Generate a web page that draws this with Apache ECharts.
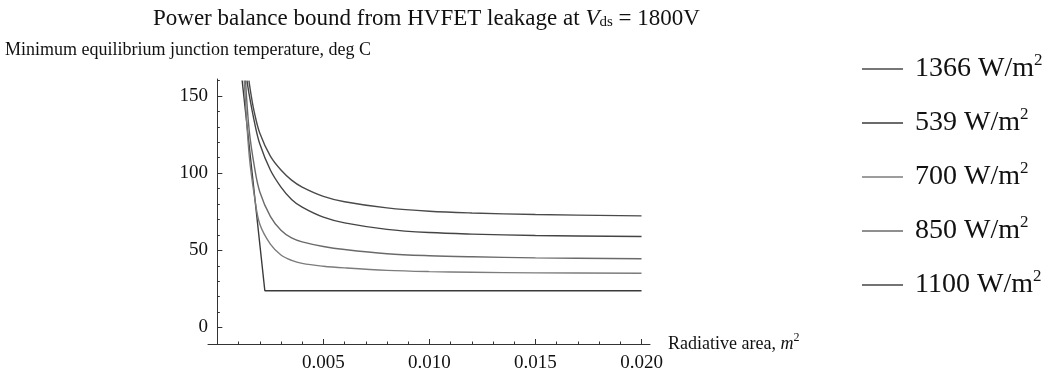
<!DOCTYPE html>
<html>
<head>
<meta charset="utf-8">
<script src="https://cdn.jsdelivr.net/npm/echarts@6/dist/echarts.min.js"></script>
<style>
html,body{margin:0;padding:0;background:#fff;}
#chart{width:1056px;height:375px;}
</style>
</head>
<body>
<div id="chart"></div>
<script>
// ---- data ----
const seriesNames = ['1366', '539', '700', '850', '1100'];
const s1366 = [[0.00149,160],[0.0016,150],[0.00175,139],[0.002,126],[0.0025,111],[0.003,102],[0.0035,95.5],[0.004,91],[0.005,85],[0.006,81.5],[0.008,77.5],[0.010,75.3],[0.012,74.2],[0.015,73.2],[0.020,72.3]];
const s1100 = [[0.0014,160],[0.0015,151],[0.00175,133],[0.002,119],[0.0025,102],[0.003,91],[0.0035,83],[0.004,78],[0.005,71.5],[0.006,67.8],[0.008,63.6],[0.010,61.5],[0.012,60.5],[0.015,59.6],[0.020,59]];
const s850 = [[0.00133,160],[0.0015,128],[0.00175,104],[0.002,88],[0.0025,72],[0.003,63],[0.0035,58],[0.004,55.5],[0.005,52.5],[0.006,50.5],[0.008,47.8],[0.010,46.5],[0.012,45.8],[0.015,45.1],[0.020,44.5]];
const s700 = [[0.00127,160],[0.0015,112],[0.00175,85],[0.002,67],[0.0025,54],[0.003,47],[0.0035,43.5],[0.004,41.5],[0.005,39.7],[0.006,38.6],[0.008,37],[0.010,36.2],[0.012,35.8],[0.015,35.4],[0.020,35.1]];
const s539 = [[0.00117,160],[0.00224,23.8],[0.005,23.8],[0.010,23.8],[0.015,23.8],[0.020,23.8]];
const xMajorTicks = [0.005, 0.010, 0.015, 0.020];
const xMinorTicks = [0.001,0.002,0.003,0.004,0.006,0.007,0.008,0.009,0.011,0.012,0.013,0.014,0.016,0.017,0.018,0.019];
const yMajorTicks = [0, 50, 100, 150];
const yMinorTicks = [10,20,30,40,60,70,80,90,110,120,130,140,160];

const seriesData = {'1366': s1366, '539': s539, '700': s700, '850': s850, '1100': s1100};
const seriesColors = {'1366': '#4a4a4a', '539': '#3a3a3a', '700': '#7c7c7c', '850': '#6a6a6a', '1100': '#444444'};

const FONT = 'Liberation Serif';
const chart = echarts.init(document.getElementById('chart'), null, {renderer: 'canvas'});

const option = {
  backgroundColor: '#fff',
  animation: false,
  title: [
    {
      text: 'Power balance bound from HVFET leakage at {i|V}{sub|ds} = 1800V',
      left: 148, top: 2,
      textStyle: {
        fontFamily: FONT, fontSize: 23, fontWeight: 'normal', color: '#111',
        rich: {
          i: {fontFamily: FONT, fontSize: 23, fontStyle: 'italic', color: '#111'},
          sub: {fontFamily: FONT, fontSize: 15, color: '#111', verticalAlign: 'bottom'}
        }
      }
    },
    {
      text: 'Minimum equilibrium junction temperature, deg C',
      left: 0, top: 36,
      textStyle: {fontFamily: FONT, fontSize: 18, fontWeight: 'normal', color: '#111'}
    }
  ],
  legend: {
    orient: 'vertical',
    left: 857, top: 47,
    icon: 'rect',
    itemWidth: 41, itemHeight: 1.5, itemGap: 23,
    data: seriesNames,
    formatter: name => '{n|' + name + ' W/m}{s|2}',
    textStyle: {
      fontFamily: FONT, color: '#111',
      rich: {
        n: {fontFamily: FONT, fontSize: 28, lineHeight: 34, color: '#111', padding: [0, 0, 0, 7]},
        s: {fontFamily: FONT, fontSize: 17, color: '#111', verticalAlign: 'top'}
      }
    }
  },
  grid: {left: 208, right: 406, top: 79, bottom: 31, containLabel: false},
  xAxis: [
    {
      type: 'value', min: -0.00044, max: 0.0204,
      position: 'bottom',
      axisLine: {onZero: false, lineStyle: {color: '#333', width: 1}},
      axisTick: {inside: true, length: 5, customValues: xMajorTicks, lineStyle: {color: '#333'}},
      axisLabel: {customValues: xMajorTicks, formatter: v => v.toFixed(3), margin: 10,
                  fontFamily: FONT, fontSize: 19, color: '#111'},
      splitLine: {show: false},
      name: '{b|Radiative area, }{i|m}{s|2}',
      nameLocation: 'end', nameGap: 18,
      nameTextStyle: {
        fontFamily: FONT, fontSize: 18, color: '#111',
        rich: {
          b: {fontFamily: FONT, fontSize: 18, lineHeight: 24, color: '#111'},
          i: {fontFamily: FONT, fontSize: 18, lineHeight: 24, fontStyle: 'italic', color: '#111'},
          s: {fontFamily: FONT, fontSize: 12, color: '#111', verticalAlign: 'top'}
        }
      }
    },
    {
      type: 'value', min: -0.00044, max: 0.0204,
      position: 'bottom',
      axisLine: {show: false, onZero: false},
      axisTick: {inside: true, length: 2.5, customValues: xMinorTicks, lineStyle: {color: '#333'}},
      axisLabel: {show: false},
      splitLine: {show: false}
    }
  ],
  yAxis: [
    {
      type: 'value', min: -10.7, max: 161,
      position: 'left',
      axisLine: {onZero: true, lineStyle: {color: '#333', width: 1}},
      axisTick: {inside: true, length: 5, customValues: yMajorTicks, lineStyle: {color: '#333'}},
      axisLabel: {customValues: yMajorTicks, margin: 0, fontFamily: FONT, fontSize: 19, color: '#111'},
      splitLine: {show: false}
    },
    {
      type: 'value', min: -10.7, max: 161,
      position: 'left',
      axisLine: {show: false, onZero: true},
      axisTick: {inside: true, length: 2.5, customValues: yMinorTicks, lineStyle: {color: '#333'}},
      axisLabel: {show: false},
      splitLine: {show: false}
    }
  ],
  series: seriesNames.map(n => ({
    name: n,
    type: 'line',
    xAxisIndex: 0, yAxisIndex: 0,
    data: seriesData[n],
    smooth: n === '539' ? false : 0.35,
    symbol: 'none',
    clip: true,
    color: seriesColors[n],
    lineStyle: {color: seriesColors[n], width: 1.4}
  }))
};
chart.setOption(option);
</script>
</body>
</html>
